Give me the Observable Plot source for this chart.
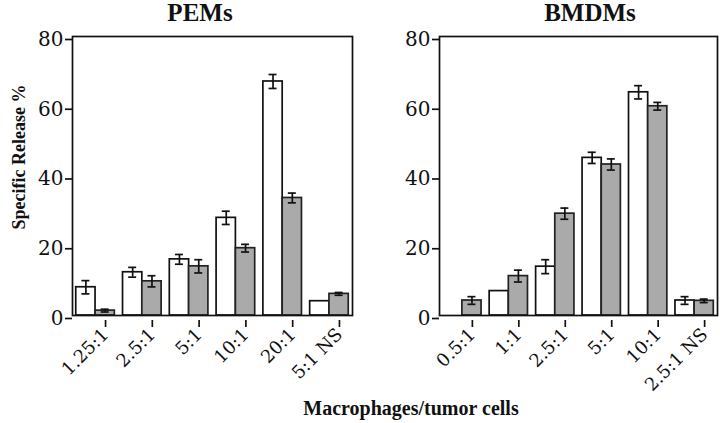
<!DOCTYPE html>
<html><head><meta charset="utf-8">
<script src="https://cdn.jsdelivr.net/npm/d3@7"></script>
<script src="https://cdn.jsdelivr.net/npm/@observablehq/plot@0.6"></script>
<style>
body{margin:0;background:#fff;}
#root{position:relative;width:720px;height:423px;overflow:hidden;background:#fff;font-family:"Liberation Serif","Times New Roman",serif;color:#111;}
.t{position:absolute;font-weight:bold;white-space:nowrap;line-height:1;}
.panel{position:absolute;top:0;}
</style></head><body><div id="root">
<div class="panel" id="p1" style="left:0px"></div>
<div class="panel" id="p2" style="left:360px"></div>
<div class="t" style="font-size:25px;left:200px;top:0px;transform:translateX(-50%)">PEMs</div>
<div class="t" style="font-size:25px;left:590px;top:0px;transform:translateX(-50%)">BMDMs</div>
<div class="t" style="font-size:18px;left:19px;top:157px;transform:translate(-50%,-50%) rotate(-90deg)">Specific Release %</div>
<div class="t" style="font-size:20px;left:411px;top:398px;transform:translateX(-50%)">Macrophages/tumor cells</div>
</div>
<script>
// PEMs panel
const pemCats = ["1.25:1","2.5:1","5:1","10:1","20:1","5:1 NS"];
const pemWhite = [8.1,12.4,16.1,28.0,67.1,4.1];
const pemWhiteErr = [1.9,1.4,1.4,1.9,2.0,null];
const pemGray = [1.4,9.8,14.1,19.3,33.7,6.2];
const pemGrayErr = [0.4,1.6,1.9,1.1,1.4,0.4];
// BMDMs panel
const bmCats = ["0.5:1","1:1","2.5:1","5:1","10:1","2.5:1 NS"];
const bmWhite = [null,7.0,14.0,45.2,64.0,4.3];
const bmWhiteErr = [null,null,2.0,1.6,1.9,1.1];
const bmGray = [4.3,11.3,29.2,43.3,60.0,4.2];
const bmGrayErr = [1.1,1.7,1.6,1.6,1.1,0.5];
const yTicks = [0,20,40,60,80];

function panel(cats, white, wErr, gray, gErr, ml, mr) {
  const W = 360, H = 423, mt = 36, mb = 108;
  const pi = 0.175, po = 0.08;
  const fw = W - ml - mr;
  const step = fw / (cats.length - pi + 2 * po);
  const bw = step * (1 - pi);
  const half = bw / 2;
  const cap = 4;
  const rowsW = cats.map((c, i) => ({cat: c, v: white[i], e: wErr[i]})).filter(d => d.v != null);
  const rowsG = cats.map((c, i) => ({cat: c, v: gray[i], e: gErr[i]})).filter(d => d.v != null);
  const eW = rowsW.filter(d => d.e != null), eG = rowsG.filter(d => d.e != null);
  const sw = 1.7;
  return Plot.plot({
    width: W, height: H, marginLeft: ml, marginRight: mr, marginTop: mt, marginBottom: mb,
    style: {fontFamily: "'DejaVu Serif', serif", color: "#111", background: "transparent"},
    x: {type: "band", domain: cats, paddingInner: pi, paddingOuter: po, round: false, axis: null},
    y: {domain: [0, 80], axis: null},
    marks: [
      Plot.barY(rowsW, {x: "cat", y: "v", fill: "white", stroke: "#111", strokeWidth: sw, insetRight: half}),
      Plot.barY(rowsG, {x: "cat", y: "v", fill: "#aaaaaa", stroke: "#222", strokeWidth: sw, insetLeft: half}),
      Plot.ruleX(eW, {x: "cat", y1: d => d.v - d.e, y2: d => d.v + d.e, dx: -half / 2, stroke: "#111", strokeWidth: sw}),
      Plot.ruleX(eG, {x: "cat", y1: d => d.v - d.e, y2: d => d.v + d.e, dx: half / 2, stroke: "#111", strokeWidth: sw}),
      Plot.tickY(eW, {x: "cat", y: d => d.v + d.e, insetLeft: half / 2 - cap, insetRight: half * 1.5 - cap, stroke: "#111", strokeWidth: sw}),
      Plot.tickY(eW, {x: "cat", y: d => d.v - d.e, insetLeft: half / 2 - cap, insetRight: half * 1.5 - cap, stroke: "#111", strokeWidth: sw}),
      Plot.tickY(eG, {x: "cat", y: d => d.v + d.e, insetLeft: half * 1.5 - cap, insetRight: half / 2 - cap, stroke: "#111", strokeWidth: sw}),
      Plot.tickY(eG, {x: "cat", y: d => d.v - d.e, insetLeft: half * 1.5 - cap, insetRight: half / 2 - cap, stroke: "#111", strokeWidth: sw}),
      Plot.frame({stroke: "#111", strokeWidth: sw}),
      Plot.axisY({ticks: yTicks, tickSize: 7, tickPadding: 2, fontSize: 20, dy: 3, label: null, strokeWidth: sw}),
      Plot.axisX({tickSize: 7, tickRotate: -45, tickPadding: 4, fontSize: 18, dx: 10, dy: 5, label: null, strokeWidth: sw})
    ]
  });
}
document.getElementById("p1").appendChild(panel(pemCats, pemWhite, pemWhiteErr, pemGray, pemGrayErr, 72, 8));
document.getElementById("p2").appendChild(panel(bmCats, bmWhite, bmWhiteErr, bmGray, bmGrayErr, 79, 3));
</script>
</body></html>
